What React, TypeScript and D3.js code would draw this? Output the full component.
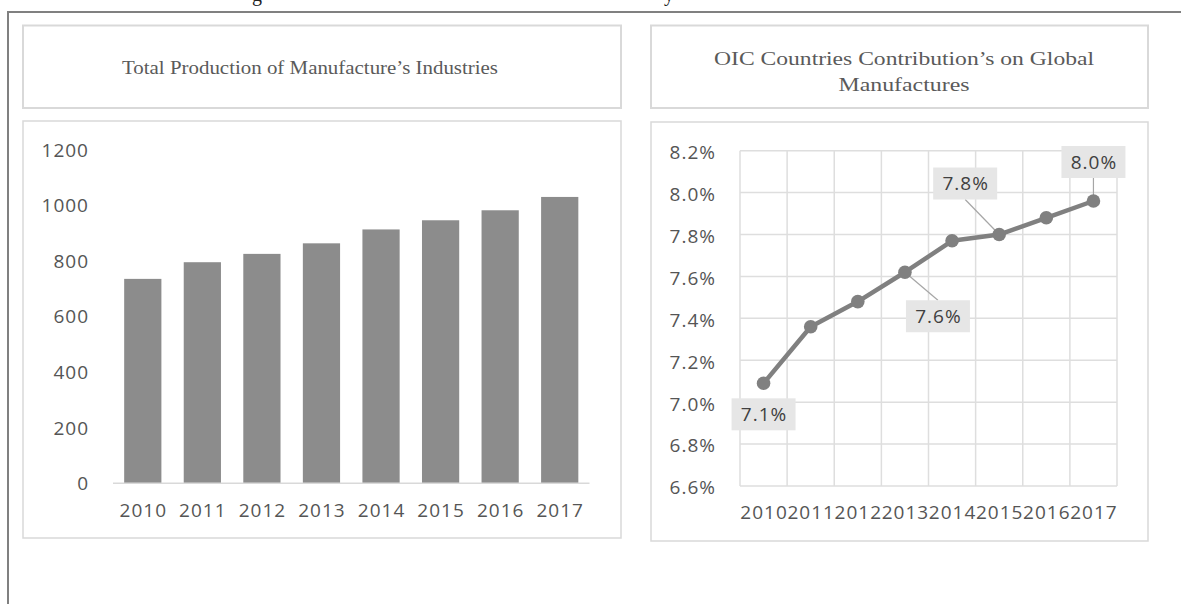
import React from 'react';
import * as d3 from 'd3';

// ---------- data ----------
const years = ['2010', '2011', '2012', '2013', '2014', '2015', '2016', '2017'];
const production = [736, 796, 826, 864, 914, 947, 983, 1031];
const productionTicks = [0, 200, 400, 600, 800, 1000, 1200];
const oicShare = [7.09, 7.36, 7.48, 7.62, 7.77, 7.8, 7.88, 7.96];
const shareTicks = [6.6, 6.8, 7.0, 7.2, 7.4, 7.6, 7.8, 8.0, 8.2];
const labelledYears = ['2010', '2013', '2015', '2017'];
const labelTexts = ['7.1%', '7.6%', '7.8%', '8.0%'];
const leftTitle = 'Total Production of Manufacture\u2019s Industries';
const rightTitleLines = ['OIC Countries Contribution\u2019s on Global', 'Manufactures'];

// ---------- layout ----------
const W = 1181;
const H = 604;
const sansFont = "'Open Sans', sans-serif";
const serifFont = "'Liberation Serif', serif";
const axisColor = '#555555';
const boxStroke = '#d9d9d9';
const fs = 19;
const ls = 1;
// offsets of data-label boxes from their points (dx, dy)
const labelOffsets: [number, number][] = [
  [0, 31],
  [33, 44],
  [-34, -51],
  [0, -39],
];

export default function App() {
  const xBar = d3
    .scaleBand<string>()
    .domain(years)
    .range([113, 589.5])
    .paddingInner(0.375)
    .paddingOuter(0.1875);
  const yBar = d3.scaleLinear().domain([0, 1200]).range([483.3, 150]);

  const xLine = d3.scaleBand<string>().domain(years).range([740, 1117]);
  const yLine = d3.scaleLinear().domain([6.6, 8.2]).range([486, 150.7]);
  const cx = (y: string) => (xLine(y) as number) + xLine.bandwidth() / 2;

  const linePath = d3
    .line<number>()
    .x((_, i) => cx(years[i]))
    .y((d) => yLine(d))(oicShare) as string;

  const vLines = [...years.map((y) => xLine(y) as number), xLine.range()[1]];

  const axisText = {
    fontFamily: sansFont,
    fontSize: fs,
    letterSpacing: ls,
    fill: axisColor,
  };

  return (
    <svg
      width={W}
      height={H}
      style={{ position: 'absolute', left: 0, top: 0, background: '#fff' }}
    >
      {/* clipped caption fragments from above */}
      <text x={252} y={1} fontFamily={serifFont} fontSize={20} fill="#222">g</text>
      <text x={664} y={1} fontFamily={serifFont} fontSize={20} fill="#222">y</text>

      {/* outer frame */}
      <line x1={8} y1={12} x2={W} y2={12} stroke="#808080" strokeWidth={2} />
      <line x1={8} y1={11} x2={8} y2={H} stroke="#808080" strokeWidth={2} />

      {/* ---------- left panel ---------- */}
      <rect x={23} y={25.5} width={598} height={82.5} fill="#fff" stroke={boxStroke} strokeWidth={2} />
      <text
        x={310}
        y={73.5}
        textAnchor="middle"
        fontFamily={serifFont}
        fontSize={19}
        fill="#5a5a5a"
        textLength={376}
        lengthAdjust="spacingAndGlyphs"
      >
        {leftTitle}
      </text>

      <rect x={23} y={121} width={598} height={417} fill="#fff" stroke={boxStroke} strokeWidth={1.5} />
      {productionTicks.map((t) => (
        <text key={t} x={89} y={yBar(t)} dy="0.36em" textAnchor="end" {...axisText}>
          {t}
        </text>
      ))}
      {production.map((v, i) => (
        <rect
          key={years[i]}
          x={xBar(years[i])}
          y={yBar(v)}
          width={xBar.bandwidth()}
          height={yBar(0) - yBar(v)}
          fill="#8c8c8c"
        />
      ))}
      <line x1={113} x2={589.5} y1={yBar(0)} y2={yBar(0)} stroke={boxStroke} strokeWidth={1.5} />
      {years.map((y) => (
        <text
          key={y}
          x={(xBar(y) as number) + xBar.bandwidth() / 2 + ls / 2}
          y={510}
          dy="0.36em"
          textAnchor="middle"
          {...axisText}
        >
          {y}
        </text>
      ))}

      {/* ---------- right panel ---------- */}
      <rect x={651} y={25.5} width={497} height={82.5} fill="#fff" stroke={boxStroke} strokeWidth={2} />
      {rightTitleLines.map((s, i) => (
        <text
          key={s}
          x={904}
          y={65 + i * 25.5}
          textAnchor="middle"
          fontFamily={serifFont}
          fontSize={19.5}
          fill="#5a5a5a"
          textLength={i === 0 ? 380 : 131}
          lengthAdjust="spacingAndGlyphs"
        >
          {s}
        </text>
      ))}

      <rect x={651} y={122} width={497} height={419} fill="#fff" stroke={boxStroke} strokeWidth={1.5} />
      {shareTicks.map((t) => (
        <g key={t}>
          <line
            x1={740}
            x2={1117}
            y1={yLine(t)}
            y2={yLine(t)}
            stroke="#dedede"
            strokeWidth={1.5}
          />
          <text x={716} y={yLine(t) + 1.5} dy="0.36em" textAnchor="end" {...axisText}>
            {t.toFixed(1)}%
          </text>
        </g>
      ))}
      {vLines.map((x, i) => (
        <line
          key={i}
          x1={x}
          x2={x}
          y1={yLine(8.2)}
          y2={yLine(6.6)}
          stroke="#dedede"
          strokeWidth={1.5}
        />
      ))}
      {years.map((y) => (
        <text
          key={y}
          x={cx(y) + ls / 2}
          y={512.5}
          dy="0.36em"
          textAnchor="middle"
          {...axisText}
        >
          {y}
        </text>
      ))}

      {/* leader lines */}
      {labelledYears.map((y, k) => {
        const i = years.indexOf(y);
        const px = cx(y);
        const py = yLine(oicShare[i]);
        const [dx, dy] = labelOffsets[k];
        const bx = px + dx;
        const by = py + dy;
        if (Math.abs(dy) < 35 && dx === 0) return null;
        const ey = dy < 0 ? by + 16 : by - 16;
        return (
          <line key={y} x1={px} y1={py} x2={bx} y2={ey} stroke="#a6a6a6" strokeWidth={1.2} />
        );
      })}

      <path d={linePath} fill="none" stroke="#808080" strokeWidth={4.5} strokeLinejoin="round" />
      {oicShare.map((v, i) => (
        <circle key={years[i]} cx={cx(years[i])} cy={yLine(v)} r={6.8} fill="#808080" />
      ))}

      {/* data labels */}
      {labelledYears.map((y, k) => {
        const i = years.indexOf(y);
        const [dx, dy] = labelOffsets[k];
        const bx = cx(y) + dx;
        const by = yLine(oicShare[i]) + dy;
        return (
          <g key={y}>
            <rect x={bx - 32} y={by - 16} width={64} height={32} fill="#e6e6e6" />
            <text
              x={bx + ls / 2}
              y={by}
              dy="0.36em"
              textAnchor="middle"
              {...axisText}
              fill="#404040"
            >
              {labelTexts[k]}
            </text>
          </g>
        );
      })}
    </svg>
  );
}
